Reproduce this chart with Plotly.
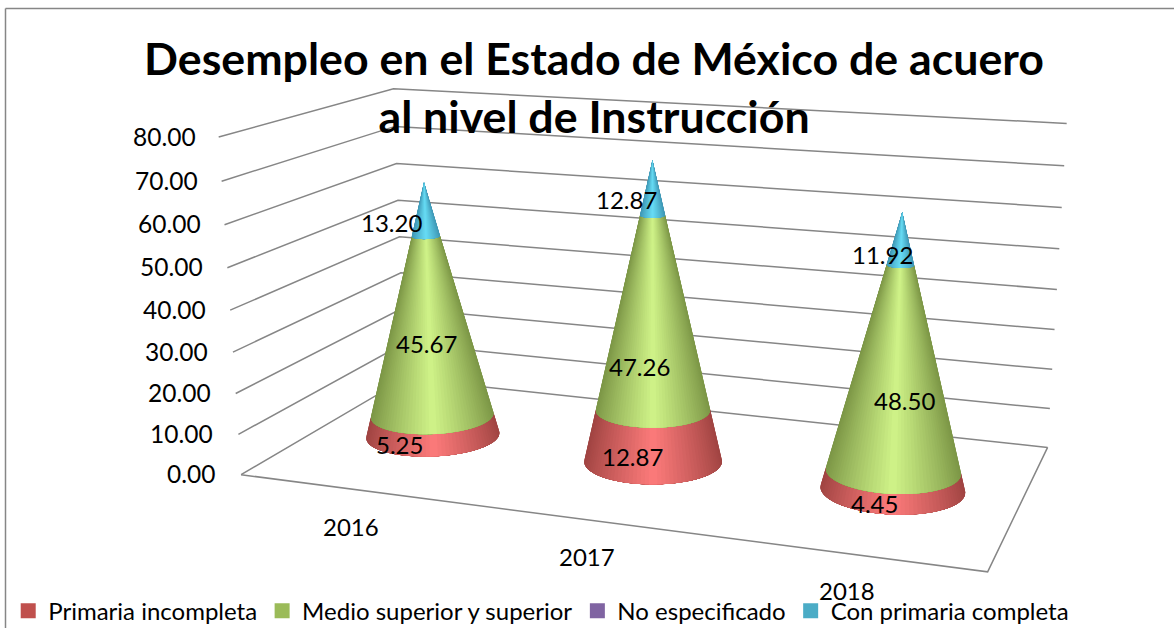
import numpy as np
import plotly.graph_objects as go

# ---------- data ----------
years = ["2016", "2017", "2018"]
primaria_incompleta = [5.25, 12.87, 4.45]
medio_superior = [45.67, 47.26, 48.50]
no_especificado = [0.0, 0.0, 0.0]
primaria_completa = [13.20, 12.87, 11.92]
series_names = ["Primaria incompleta", "Medio superior y superior", "No especificado", "Con primaria completa"]
series_values = [primaria_incompleta, medio_superior, no_especificado, primaria_completa]
tick_values = [0, 10, 20, 30, 40, 50, 60, 70, 80]

# ---------- style ----------
legend_colors = ["#C0504D", "#9BBB59", "#8064A2", "#4BACC6"]
edge_colors = [(160, 68, 66), (124, 150, 70), (100, 78, 130), (62, 150, 180)]
center_colors = [(255, 124, 124), (210, 246, 138), (180, 150, 220), (104, 222, 246)]
grid_color = "#868686"
W, H = 1174, 628
FONT = "Lato"
label_offsets = [[(-33, 20), (-3, 17), None, (-33, 13)],
                 [(-21, 21), (-13, 53), None, (-26, 12)],
                 [(-18, 24), (8, 31), None, (-19, 16)]]
cat_offset = (-1, 37)

# ---------- perspective camera of the 3-D chart box ----------
EYE = np.array([1.795, -4.934, 1.339])
TARGET = np.array([0.061, -0.017, -0.129])
UP = np.array([0.002, -0.007, 1.0])
BOX = np.array([2.200, 1.042, 1.0])
FOCAL = 1846.7
PP = np.array([W / 2 + 83.424, H / 2 + 31.259])
fw = TARGET - EYE; fw = fw / np.linalg.norm(fw)
side = np.cross(fw, UP); side = side / np.linalg.norm(side)
upv = np.cross(side, fw)
Z_MAX = 80.0
CONE_R = 0.207  # radius in box units


def to_box(x, y, z):
    return np.stack([(np.asarray(x, float) / 3 - .5) * BOX[0],
                     (np.asarray(y, float) - .5) * BOX[1],
                     (np.asarray(z, float) / Z_MAX - .5) * BOX[2]], axis=-1)


def project_box(P):
    d = P - EYE
    depth = d @ fw
    return PP[0] + FOCAL * (d @ side) / depth, PP[1] - FOCAL * (d @ upv) / depth


def project(x, y, z):
    return project_box(to_box(x, y, z))


fig = go.Figure()

# walls' gridlines
for t in tick_values:
    px, py = project([0, 0, 3], [0, 1, 1], [t, t, t])
    fig.add_trace(go.Scatter(x=px, y=py, mode="lines", line=dict(color=grid_color, width=1.5),
                             showlegend=False, hoverinfo="skip"))
# floor outline
px, py = project([0, 3, 3], [0, 0, 1], [0, 0, 0])
fig.add_trace(go.Scatter(x=px, y=py, mode="lines", line=dict(color=grid_color, width=1.5),
                         showlegend=False, hoverinfo="skip"))

# cones
totals = np.sum(series_values, axis=0)
STEPS = 28
for k in range(len(years)):
    c0 = to_box(k + .5, .5, 0.0)
    view = EYE[:2] - c0[:2]
    az = np.arctan2(view[1], view[0])
    height = totals[k] / Z_MAX * BOX[2]
    cos_sil = -CONE_R * (EYE[2] - c0[2]) / (height * np.linalg.norm(view))
    a_max = np.arccos(cos_sil)
    base = 0.0
    for s, vals in enumerate(series_values):
        v = vals[k]
        if v <= 0:
            continue
        top = base + v
        z_b, z_t = c0[2] + base / Z_MAX * BOX[2], c0[2] + top / Z_MAX * BOX[2]
        r_b, r_t = CONE_R * (1 - base / totals[k]), CONE_R * (1 - top / totals[k])
        for a in np.linspace(a_max, 0.0, STEPS, endpoint=False):
            th = np.linspace(-a, a, 61) + az
            ring_b = np.stack([c0[0] + r_b * np.cos(th), c0[1] + r_b * np.sin(th), np.full_like(th, z_b)], axis=-1)
            ring_t = np.stack([c0[0] + r_t * np.cos(th[::-1]), c0[1] + r_t * np.sin(th[::-1]), np.full_like(th, z_t)], axis=-1)
            px, py = project_box(np.vstack([ring_b, ring_t]))
            w = (1 - np.sin(min(a, np.pi / 2))) ** 0.85
            col = np.array(edge_colors[s]) * (1 - w) + np.array(center_colors[s]) * w
            col = f"rgb({col[0]:.0f},{col[1]:.0f},{col[2]:.0f})"
            fig.add_trace(go.Scatter(x=np.r_[px, px[0]], y=np.r_[py, py[0]], mode="lines", fill="toself",
                                     fillcolor=col, line=dict(width=0, color=col),
                                     showlegend=False, hoverinfo="skip"))
        base = top

# legend entries
for name, col in zip(series_names, legend_colors):
    fig.add_trace(go.Scatter(x=[None], y=[None], mode="markers", name=name,
                             marker=dict(symbol="square", size=15, color=col)))

ann = []
# value axis labels
for t in tick_values:
    px, py = project(0, 0, t)
    ann.append(dict(x=float(px), y=float(py), xref="x", yref="y", text=f"{t:.2f}", showarrow=False,
                    xanchor="right", xshift=-24 + 0.04 * t, yshift=1, font=dict(size=24.5, color="black", family=FONT)))
# category labels
for k, y in enumerate(years):
    px, py = project(k + .5, 0, 0)
    ann.append(dict(x=float(px), y=float(py), xref="x", yref="y", text=y, showarrow=False,
                    xshift=cat_offset[0], yshift=-cat_offset[1], font=dict(size=24, color="black", family=FONT)))
# data labels
for k in range(len(years)):
    base = 0.0
    for s, vals in enumerate(series_values):
        v = vals[k]
        if v > 0:
            px, py = project(k + .5, .5, base + v / 2)
            dx, dy = label_offsets[k][s]
            ann.append(dict(x=float(px), y=float(py), xref="x", yref="y", text=f"{v:.2f}", showarrow=False,
                            xshift=dx, yshift=-dy, font=dict(size=24, color="black", family=FONT)))
        base += v

fig.update_layout(
    width=W, height=H, margin=dict(l=0, r=0, t=0, b=0, autoexpand=False), paper_bgcolor="white", plot_bgcolor="rgba(0,0,0,0)",
    font=dict(family=FONT, color="black"),
    title=dict(text="<b>Desempleo en el Estado de México de acuero<br>al nivel de Instrucción</b>",
               font=dict(size=44.7, family=FONT, color="black"), x=0.506, xanchor="center", y=0.881, yanchor="top"),
    xaxis=dict(range=[0, W], visible=False, fixedrange=True),
    yaxis=dict(range=[H, 0], visible=False, fixedrange=True),
    legend=dict(orientation="h", x=0.007, y=-0.009, xanchor="left", yanchor="bottom", font=dict(size=24, family=FONT),
                bgcolor="rgba(0,0,0,0)", itemwidth=30),
    annotations=ann,
    shapes=[dict(type="line", xref="paper", yref="paper", x0=5.5 / W, x1=1, y0=1 - 8.5 / H, y1=1 - 8.5 / H,
                 line=dict(color=grid_color, width=1.5)),
            dict(type="line", xref="paper", yref="paper", x0=5.5 / W, x1=5.5 / W, y0=0, y1=1 - 8.5 / H,
                 line=dict(color=grid_color, width=1.5))],
)
fig.write_html("out.html", config=dict(displayModeBar=False),
               post_script="document.body.style.margin='0';document.documentElement.style.overflow='hidden';")
